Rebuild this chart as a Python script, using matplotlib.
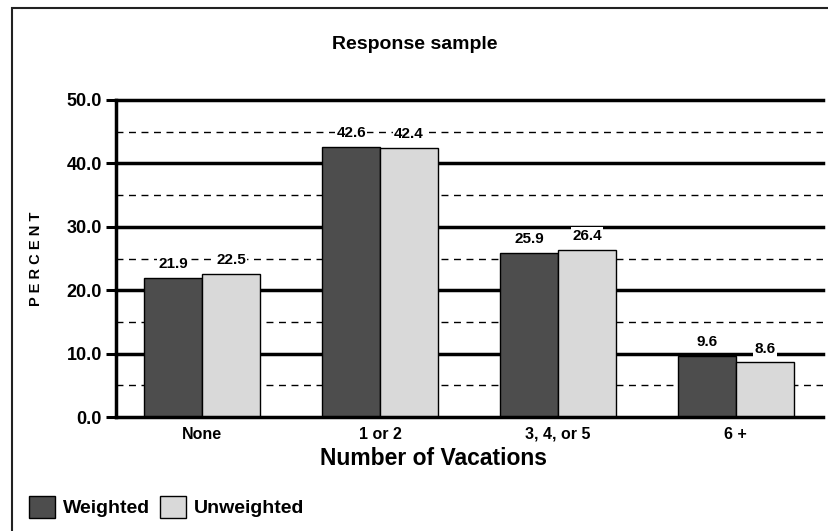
import matplotlib.pyplot as plt
import numpy as np
from matplotlib.patches import Patch, Rectangle

# --- data ---
categories = ["None", "1 or 2", "3, 4, or 5", "6 +"]
weighted = [21.9, 42.6, 25.9, 9.6]
unweighted = [22.5, 42.4, 26.4, 8.6]
y_ticks = [0, 10, 20, 30, 40, 50]
y_minor = [5, 15, 25, 35, 45]

plt.rcParams['font.family'] = ['Liberation Sans', 'DejaVu Sans']
plt.rcParams['font.weight'] = 'bold'

W, H = 829, 531
fig = plt.figure(figsize=(W / 100, H / 100), dpi=100, facecolor='white')
ax = fig.add_axes([116 / W, 1 - 417 / H, (823 - 116) / W, (417 - 100) / H])

# frame round the chart (only left and top edges show)
fig.patches.append(Rectangle((12 / W, -0.1), 1.2, 1 - 8 / H + 0.1, transform=fig.transFigure,
                             fill=False, edgecolor='#222222', lw=1.5))

x = np.arange(len(categories))
w = 0.325

# grid lines
for v in y_ticks[1:]:
    ax.axhline(v, color='black', lw=2.5, zorder=1, clip_on=False)
for v in y_minor:
    ax.axhline(v, color='black', lw=1, ls=(0, (5, 4)), zorder=1)

b1 = ax.bar(x - w / 2, weighted, w, color='#4d4d4d', edgecolor='black', lw=1, zorder=3)
b2 = ax.bar(x + w / 2, unweighted, w, color='#d9d9d9', edgecolor='black', lw=1, zorder=3)

for bars, vals in ((b1, weighted), (b2, unweighted)):
    for r, v in zip(bars, vals):
        ax.annotate(f"{v:.1f}", (r.get_x() + r.get_width() / 2, v), xytext=(0, 5),
                    textcoords='offset points', ha='center', va='bottom', fontsize=11,
                    fontweight='bold', zorder=4,
                    bbox=dict(facecolor='white', edgecolor='none', pad=1.0))

ax.set_xlim(-0.485, 3.49)
ax.set_ylim(0, 50)
ax.set_yticks(y_ticks)
ax.set_yticklabels([f"{v:.1f}" for v in y_ticks], fontsize=13, fontweight='bold')
ax.set_xticks(x)
ax.set_xticklabels(categories, fontsize=11.5, fontweight='bold')
ax.tick_params(axis='x', length=0, pad=7)
ax.tick_params(axis='y', length=7, width=2.2, pad=3)

for s in ['top', 'right']:
    ax.spines[s].set_visible(False)
for s in ['left', 'bottom']:
    ax.spines[s].set_linewidth(2.5)
    ax.spines[s].set_zorder(5)

fig.text(434 / W, 1 - 465 / H, "Number of Vacations", ha='center', va='baseline',
         fontsize=16.5, fontweight='bold')
fig.text(36 / W, 1 - 259 / H, "P E R C E N T", rotation=90, fontsize=10.5,
         fontweight='bold', ha='center', va='center')
fig.text(0.5, 1 - 49 / H, "Response sample", ha='center', va='baseline',
         fontsize=14, fontweight='bold')

handles = [Patch(facecolor='#4d4d4d', edgecolor='black', label='Weighted'),
           Patch(facecolor='#d9d9d9', edgecolor='black', label='Unweighted')]
fig.legend(handles=handles, loc='center left', bbox_to_anchor=(29 / W, 1 - 507 / H),
           ncol=2, frameon=False, handlelength=1.34, handleheight=1.44,
           handletextpad=0.4, columnspacing=0.5, borderpad=0, borderaxespad=0,
           prop={'weight': 'bold', 'size': 14})

fig.savefig("out.png", dpi=100)
